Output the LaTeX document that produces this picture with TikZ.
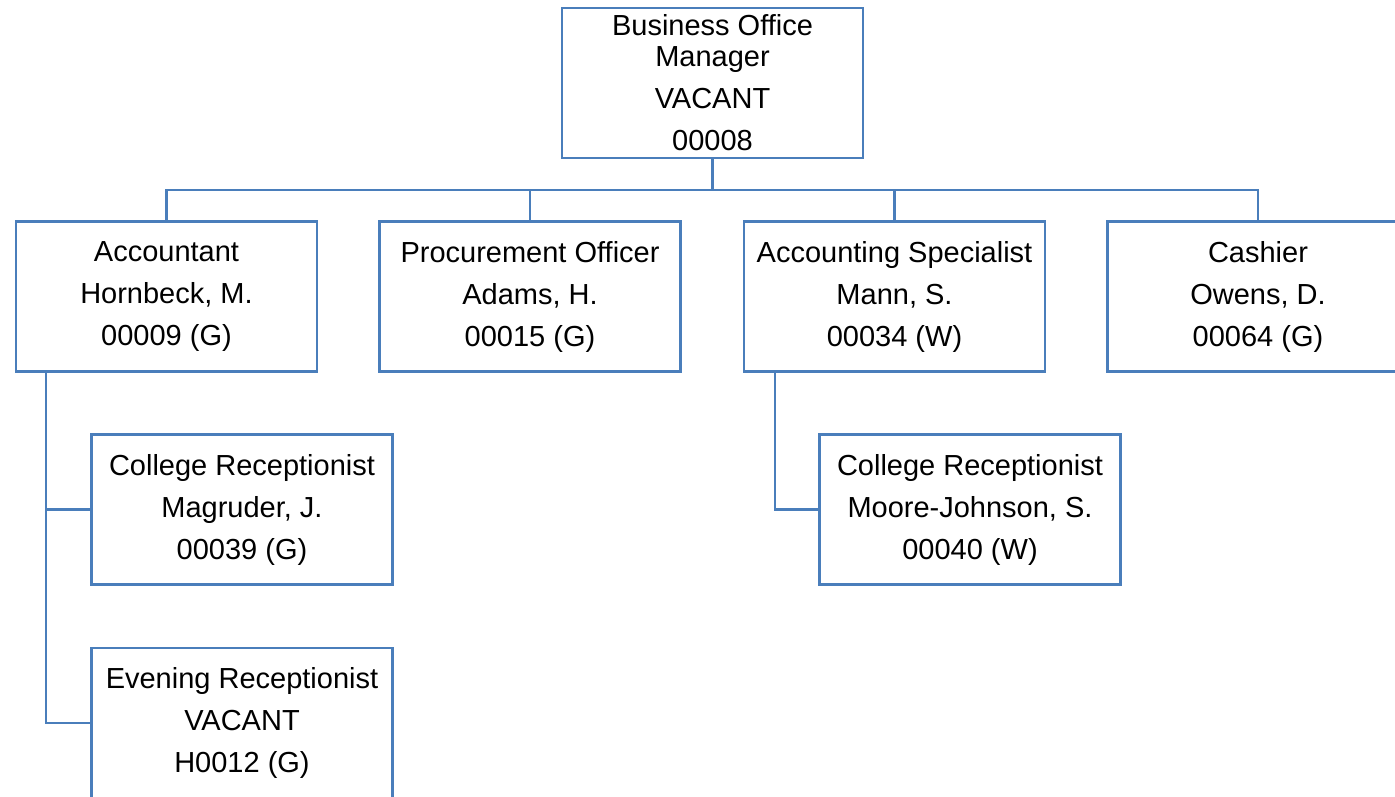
\documentclass[tikz,border=0pt]{standalone}
\usepackage{fontspec}
\setmainfont{Liberation Sans}
\usepackage{tikz}
\definecolor{boxblue}{RGB}{74,126,187}

\begin{document}
\begin{tikzpicture}[x=0.75pt,y=0.75pt,yscale=-1,xscale=1]
\tikzset{
  posbox/.style={draw=boxblue, line width=1.6pt, minimum width=225.75pt,
    minimum height=112.5pt, inner sep=0pt, align=center,
    font=\fontsize{21.75}{31.5}\selectfont},
  link/.style={draw=boxblue, line width=1.6pt}
}
%set diagram size: 1395 x 796
\clip (0,0) rectangle (1395,796);
\fill[white] (0,0) rectangle (1395,796);

% Top box
\node[posbox] (mgr) at (712.5,83) {Business Office\\[-8.25pt]Manager\\VACANT\\00008};

% Second row
\node[posbox] (acct) at (166.5,296.5) {Accountant\\Hornbeck, M.\\00009 (G)};
\node[posbox] (proc) at (530,296.5) {Procurement Officer\\Adams, H.\\00015 (G)};
\node[posbox] (spec) at (894.5,296.5) {Accounting Specialist\\Mann, S.\\00034 (W)};
\node[posbox] (cash) at (1258,296.5) {Cashier\\Owens, D.\\00064 (G)};

% Third level
\node[posbox] (magr) at (242,509.5) {College Receptionist\\Magruder, J.\\00039 (G)};
\node[posbox] (moor) at (970,509.5) {College Receptionist\\Moore-Johnson, S.\\00040 (W)};
\node[posbox] (even) at (242,723) {Evening Receptionist\\VACANT\\H0012 (G)};

% Connectors
\foreach \child in {acct,proc,spec,cash}
  \draw[link] (mgr.south) -- ++(0,31) -| (\child.north);

\coordinate (acctstem) at (46,372);
\coordinate (specstem) at (775,372);
\draw[link] (acctstem) |- (magr.west);
\draw[link] (acctstem) |- (even.west);
\draw[link] (specstem) |- (moor.west);

\end{tikzpicture}
\end{document}
